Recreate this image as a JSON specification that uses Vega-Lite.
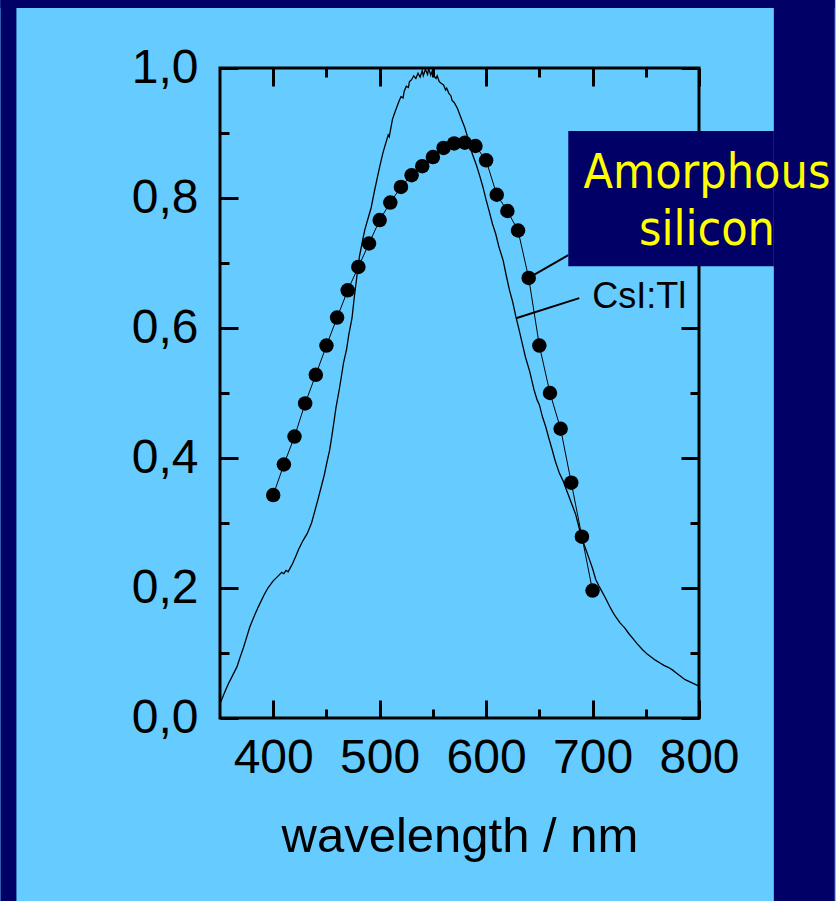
{
  "$schema": "https://vega.github.io/schema/vega-lite/v6.json",
  "width": 479,
  "height": 650,
  "autosize": {"type": "none"},
  "padding": {"left": 220, "top": 68, "right": 137, "bottom": 183},
  "background": "#66CCFF",
  "config": {
    "view": {"stroke": "#000000", "strokeWidth": 3},
    "axis": {
      "domain": false,
      "grid": false,
      "tickColor": "#000000",
      "tickWidth": 3,
      "labelFont": "Liberation Sans",
      "labelFontSize": 48,
      "labelColor": "#000000",
      "labelOverlap": false,
      "labelFlush": false,
      "labelBound": false,
      "titleFont": "Liberation Sans",
      "titleFontSize": 49,
      "titleFontWeight": "normal",
      "titleColor": "#000000"
    }
  },
  "datasets": {
    "csi": [
      {"wl": 350, "r": 0.022}, {"wl": 352, "r": 0.030}, {"wl": 355, "r": 0.042}, {"wl": 358, "r": 0.053},
      {"wl": 362, "r": 0.066}, {"wl": 366, "r": 0.079}, {"wl": 369, "r": 0.094}, {"wl": 372, "r": 0.108},
      {"wl": 375, "r": 0.124}, {"wl": 378, "r": 0.140}, {"wl": 382, "r": 0.156}, {"wl": 386, "r": 0.171},
      {"wl": 391, "r": 0.188}, {"wl": 395, "r": 0.200}, {"wl": 400, "r": 0.211}, {"wl": 405, "r": 0.219},
      {"wl": 408, "r": 0.224}, {"wl": 410, "r": 0.222}, {"wl": 412, "r": 0.227}, {"wl": 414, "r": 0.225},
      {"wl": 416, "r": 0.231}, {"wl": 418, "r": 0.237}, {"wl": 421, "r": 0.248}, {"wl": 424, "r": 0.260},
      {"wl": 428, "r": 0.273}, {"wl": 432, "r": 0.284}, {"wl": 436, "r": 0.300}, {"wl": 439, "r": 0.318},
      {"wl": 442, "r": 0.336}, {"wl": 445, "r": 0.355}, {"wl": 448, "r": 0.374}, {"wl": 450, "r": 0.390},
      {"wl": 453, "r": 0.412}, {"wl": 455, "r": 0.433}, {"wl": 457, "r": 0.455}, {"wl": 459, "r": 0.478},
      {"wl": 462, "r": 0.505}, {"wl": 464, "r": 0.525}, {"wl": 466, "r": 0.546}, {"wl": 469, "r": 0.568},
      {"wl": 471, "r": 0.590}, {"wl": 474, "r": 0.615}, {"wl": 476, "r": 0.645}, {"wl": 479, "r": 0.685},
      {"wl": 481, "r": 0.710}, {"wl": 484, "r": 0.735}, {"wl": 486, "r": 0.751}, {"wl": 489, "r": 0.768},
      {"wl": 492, "r": 0.785}, {"wl": 495, "r": 0.810}, {"wl": 498, "r": 0.833}, {"wl": 500, "r": 0.848},
      {"wl": 503, "r": 0.869}, {"wl": 506, "r": 0.886}, {"wl": 508, "r": 0.897}, {"wl": 509, "r": 0.894},
      {"wl": 512, "r": 0.921}, {"wl": 515, "r": 0.935}, {"wl": 518, "r": 0.948}, {"wl": 520, "r": 0.956},
      {"wl": 522, "r": 0.954}, {"wl": 523, "r": 0.964}, {"wl": 525, "r": 0.972}, {"wl": 527, "r": 0.970},
      {"wl": 528, "r": 0.979}, {"wl": 530, "r": 0.982}, {"wl": 532, "r": 0.988}, {"wl": 534, "r": 0.984},
      {"wl": 536, "r": 0.992}, {"wl": 538, "r": 0.986}, {"wl": 540, "r": 0.996}, {"wl": 541, "r": 0.988},
      {"wl": 543, "r": 0.998}, {"wl": 545, "r": 0.990}, {"wl": 546, "r": 0.999}, {"wl": 548, "r": 0.989},
      {"wl": 549, "r": 0.994}, {"wl": 551, "r": 0.988}, {"wl": 553, "r": 0.984}, {"wl": 554, "r": 0.988},
      {"wl": 556, "r": 0.979}, {"wl": 558, "r": 0.976}, {"wl": 560, "r": 0.974}, {"wl": 562, "r": 0.966},
      {"wl": 563, "r": 0.969}, {"wl": 565, "r": 0.961}, {"wl": 567, "r": 0.957}, {"wl": 568, "r": 0.950},
      {"wl": 570, "r": 0.947}, {"wl": 573, "r": 0.938}, {"wl": 576, "r": 0.925}, {"wl": 580, "r": 0.908},
      {"wl": 584, "r": 0.886}, {"wl": 587, "r": 0.868}, {"wl": 591, "r": 0.850}, {"wl": 594, "r": 0.834},
      {"wl": 597, "r": 0.817}, {"wl": 600, "r": 0.797}, {"wl": 603, "r": 0.779}, {"wl": 606, "r": 0.760},
      {"wl": 609, "r": 0.745}, {"wl": 612, "r": 0.725}, {"wl": 616, "r": 0.704}, {"wl": 619, "r": 0.680},
      {"wl": 622, "r": 0.658}, {"wl": 625, "r": 0.640}, {"wl": 628, "r": 0.617}, {"wl": 631, "r": 0.597},
      {"wl": 634, "r": 0.576}, {"wl": 637, "r": 0.555}, {"wl": 641, "r": 0.533}, {"wl": 645, "r": 0.505},
      {"wl": 648, "r": 0.489}, {"wl": 650, "r": 0.482}, {"wl": 653, "r": 0.463}, {"wl": 656, "r": 0.448},
      {"wl": 659, "r": 0.430}, {"wl": 662, "r": 0.413}, {"wl": 665, "r": 0.395}, {"wl": 669, "r": 0.376},
      {"wl": 672, "r": 0.366}, {"wl": 675, "r": 0.353}, {"wl": 678, "r": 0.340}, {"wl": 681, "r": 0.327},
      {"wl": 684, "r": 0.314}, {"wl": 687, "r": 0.295}, {"wl": 690, "r": 0.276}, {"wl": 694, "r": 0.258},
      {"wl": 697, "r": 0.244}, {"wl": 700, "r": 0.230}, {"wl": 703, "r": 0.213}, {"wl": 706, "r": 0.203},
      {"wl": 709, "r": 0.194}, {"wl": 712, "r": 0.185}, {"wl": 716, "r": 0.172}, {"wl": 719, "r": 0.163},
      {"wl": 722, "r": 0.155}, {"wl": 726, "r": 0.146}, {"wl": 730, "r": 0.139}, {"wl": 734, "r": 0.130},
      {"wl": 738, "r": 0.122}, {"wl": 742, "r": 0.114}, {"wl": 747, "r": 0.105}, {"wl": 751, "r": 0.099},
      {"wl": 755, "r": 0.094}, {"wl": 759, "r": 0.089}, {"wl": 763, "r": 0.085}, {"wl": 767, "r": 0.081},
      {"wl": 771, "r": 0.078}, {"wl": 775, "r": 0.074}, {"wl": 779, "r": 0.069}, {"wl": 783, "r": 0.064},
      {"wl": 787, "r": 0.059}, {"wl": 791, "r": 0.056}, {"wl": 795, "r": 0.053}, {"wl": 800, "r": 0.049}
    ],
    "asi": [
      {"wl": 400, "r": 0.343}, {"wl": 410, "r": 0.390}, {"wl": 420, "r": 0.433}, {"wl": 430, "r": 0.484},
      {"wl": 440, "r": 0.528}, {"wl": 450, "r": 0.573}, {"wl": 460, "r": 0.616}, {"wl": 470, "r": 0.658},
      {"wl": 480, "r": 0.694}, {"wl": 490, "r": 0.730}, {"wl": 500, "r": 0.766}, {"wl": 510, "r": 0.793},
      {"wl": 520, "r": 0.817}, {"wl": 530, "r": 0.835}, {"wl": 540, "r": 0.849}, {"wl": 550, "r": 0.863},
      {"wl": 560, "r": 0.877}, {"wl": 570, "r": 0.884}, {"wl": 580, "r": 0.885}, {"wl": 590, "r": 0.880},
      {"wl": 600, "r": 0.858}, {"wl": 610, "r": 0.805}, {"wl": 620, "r": 0.780}, {"wl": 630, "r": 0.750},
      {"wl": 640, "r": 0.677}, {"wl": 650, "r": 0.573}, {"wl": 660, "r": 0.500}, {"wl": 670, "r": 0.445},
      {"wl": 680, "r": 0.362}, {"wl": 690, "r": 0.279}, {"wl": 700, "r": 0.196}
    ]
  },
  "resolve": {"axis": {"x": "independent", "y": "independent"}},
  "layer": [
    {
      "data": {"values": [{}]},
      "mark": {"type": "rect", "color": "#000066"},
      "encoding": {
        "x": {"datum": 143.75, "type": "quantitative", "scale": {"domain": [350, 800], "nice": false, "zero": false}, "axis": null},
        "x2": {"datum": 158.75},
        "y": {"datum": 1.1046, "type": "quantitative", "scale": {"domain": [0, 1], "nice": false, "zero": false}, "axis": null},
        "y2": {"datum": -0.2815}
      }
    },
    {
      "data": {"values": [{}]},
      "mark": {"type": "rect", "color": "#000066"},
      "encoding": {
        "x": {"datum": 143.75, "type": "quantitative", "scale": {"domain": [350, 800], "nice": false, "zero": false}, "axis": null},
        "x2": {"datum": 927.5},
        "y": {"datum": 1.1046, "type": "quantitative", "scale": {"domain": [0, 1], "nice": false, "zero": false}, "axis": null},
        "y2": {"datum": 1.0923}
      }
    },
    {
      "data": {"values": [{}]},
      "mark": {"type": "rect", "color": "#000066"},
      "encoding": {
        "x": {"datum": 870.3, "type": "quantitative", "scale": {"domain": [350, 800], "nice": false, "zero": false}, "axis": null},
        "x2": {"datum": 927.5},
        "y": {"datum": 1.1046, "type": "quantitative", "scale": {"domain": [0, 1], "nice": false, "zero": false}, "axis": null},
        "y2": {"datum": -0.2815}
      }
    },
    {
      "data": {"name": "csi"},
      "mark": {"type": "line", "color": "#000000", "strokeWidth": 1.3},
      "encoding": {
        "x": {
          "field": "wl", "type": "quantitative",
          "scale": {"domain": [350, 800], "nice": false, "zero": false},
          "axis": {"orient": "bottom", "values": [400, 500, 600, 700, 800], "tickSize": -18, "labelPadding": 34, "title": "wavelength / nm", "titlePadding": 30}
        },
        "y": {
          "field": "r", "type": "quantitative",
          "scale": {"domain": [0, 1], "nice": false, "zero": false},
          "axis": {"orient": "left", "values": [0, 0.2, 0.4, 0.6, 0.8, 1.0], "tickSize": -18, "labelPadding": 40, "labelExpr": "replace(format(datum.value, '.1f'), '.', ',')", "title": null}
        }
      }
    },
    {
      "data": {"name": "asi"},
      "mark": {"type": "line", "color": "#000000", "strokeWidth": 1},
      "encoding": {
        "x": {
          "field": "wl", "type": "quantitative",
          "scale": {"domain": [350, 800], "nice": false, "zero": false},
          "axis": {"orient": "top", "values": [400, 500, 600, 700, 800], "tickSize": -18, "labels": false, "title": null}
        },
        "y": {
          "field": "r", "type": "quantitative",
          "scale": {"domain": [0, 1], "nice": false, "zero": false},
          "axis": {"orient": "right", "values": [0, 0.2, 0.4, 0.6, 0.8, 1.0], "tickSize": -18, "labels": false, "title": null}
        }
      }
    },
    {
      "data": {"name": "asi"},
      "mark": {"type": "point", "filled": true, "color": "#000000", "opacity": 1, "size": 210},
      "encoding": {
        "x": {
          "field": "wl", "type": "quantitative",
          "scale": {"domain": [350, 800], "nice": false, "zero": false},
          "axis": {"orient": "bottom", "values": [450, 550, 650, 750], "tickSize": -9, "labels": false, "title": null}
        },
        "y": {
          "field": "r", "type": "quantitative",
          "scale": {"domain": [0, 1], "nice": false, "zero": false},
          "axis": {"orient": "left", "values": [0.1, 0.3, 0.5, 0.7, 0.9], "tickSize": -9, "labels": false, "title": null}
        }
      }
    },
    {
      "data": {"values": [{}]},
      "mark": {"type": "rule", "color": "#000000", "strokeWidth": 2},
      "encoding": {
        "x": {
          "datum": 687.5, "type": "quantitative",
          "scale": {"domain": [350, 800], "nice": false, "zero": false},
          "axis": {"orient": "top", "values": [450, 550, 650, 750], "tickSize": -9, "labels": false, "title": null}
        },
        "x2": {"datum": 628.1},
        "y": {
          "datum": 0.646, "type": "quantitative",
          "scale": {"domain": [0, 1], "nice": false, "zero": false},
          "axis": {"orient": "right", "values": [0.1, 0.3, 0.5, 0.7, 0.9], "tickSize": -9, "labels": false, "title": null}
        },
        "y2": {"datum": 0.615}
      }
    },
    {
      "data": {"values": [{}]},
      "mark": {"type": "rule", "color": "#000000", "strokeWidth": 2},
      "encoding": {
        "x": {"datum": 677.2, "type": "quantitative", "scale": {"domain": [350, 800], "nice": false, "zero": false}, "axis": null},
        "x2": {"datum": 640},
        "y": {"datum": 0.712, "type": "quantitative", "scale": {"domain": [0, 1], "nice": false, "zero": false}, "axis": null},
        "y2": {"datum": 0.677}
      }
    },
    {
      "data": {"values": [{}]},
      "mark": {"type": "rect", "color": "#000066"},
      "encoding": {
        "x": {"datum": 677.2, "type": "quantitative", "scale": {"domain": [350, 800], "nice": false, "zero": false}, "axis": null},
        "x2": {"datum": 870.3},
        "y": {"datum": 0.903, "type": "quantitative", "scale": {"domain": [0, 1], "nice": false, "zero": false}, "axis": null},
        "y2": {"datum": 0.695}
      }
    },
    {
      "data": {"values": [{"label": ["Amorphous", "silicon"]}]},
      "mark": {"type": "text", "color": "#FFFF00", "font": "DejaVu Sans Condensed, DejaVu Sans", "fontSize": 48, "align": "center", "baseline": "alphabetic", "lineHeight": 57},
      "encoding": {
        "text": {"field": "label"},
        "x": {"datum": 807.5, "type": "quantitative", "scale": {"domain": [350, 800], "nice": false, "zero": false}, "axis": null},
        "y": {"datum": 0.815, "type": "quantitative", "scale": {"domain": [0, 1], "nice": false, "zero": false}, "axis": null}
      }
    },
    {
      "data": {"values": [{"label": "CsI:Tl"}]},
      "mark": {"type": "text", "color": "#000000", "font": "Liberation Sans", "fontSize": 36, "align": "left", "baseline": "alphabetic"},
      "encoding": {
        "text": {"field": "label"},
        "x": {"datum": 699.7, "type": "quantitative", "scale": {"domain": [350, 800], "nice": false, "zero": false}, "axis": null},
        "y": {"datum": 0.631, "type": "quantitative", "scale": {"domain": [0, 1], "nice": false, "zero": false}, "axis": null}
      }
    }
  ]
}
